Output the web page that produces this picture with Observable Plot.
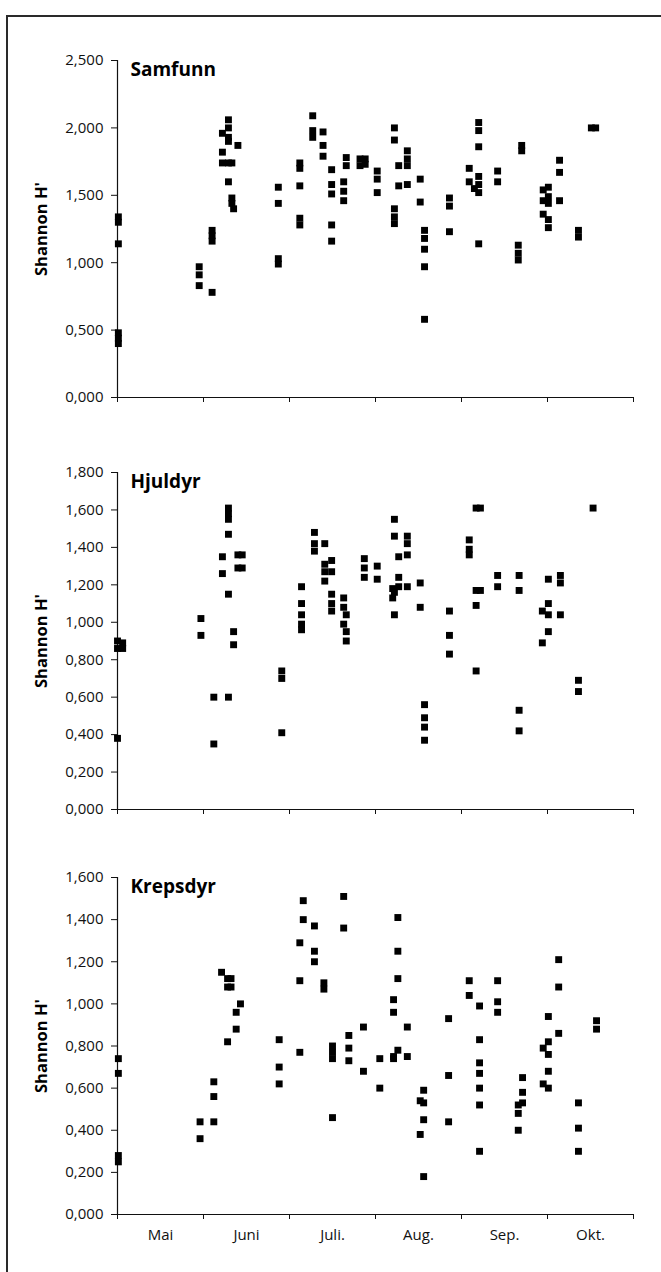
<!DOCTYPE html>
<html><head><meta charset="utf-8">
<script src="https://cdn.jsdelivr.net/npm/d3@7"></script>
<script src="https://cdn.jsdelivr.net/npm/@observablehq/plot@0.6"></script>
<style>
html,body{margin:0;padding:0;background:#fff;}
#root{position:relative;width:661px;height:1272px;overflow:hidden;font-family:"Open Sans",sans-serif;}
#frame{position:absolute;left:6px;top:15px;right:-10px;bottom:-10px;border-left:2px solid #2a2a2a;border-top:2px solid #2a2a2a;}
.panel{position:absolute;left:0;}
</style></head><body><div id="root"><div id="frame"></div></div>
<script>
// ---- data ----
const months = ["Mai", "Juni", "Juli.", "Aug.", "Sep.", "Okt."];
const monthBounds = [0, 1, 2, 3, 4, 5, 6];
const yLabel = "Shannon H'";
const panelTitles = ["Samfunn", "Hjuldyr", "Krepsdyr"];
const samfunnTicks = [0, 0.5, 1, 1.5, 2, 2.5];
const hjuldyrTicks = [0, 0.2, 0.4, 0.6, 0.8, 1.0, 1.2, 1.4, 1.6, 1.8];
const krepsdyrTicks = [0, 0.2, 0.4, 0.6, 0.8, 1.0, 1.2, 1.4, 1.6];

// sampling position (in months from 1 May) and H' values of the stations
const samfunnX = [0.01, 0.95, 1.10, 1.22, 1.29, 1.33, 1.35, 1.40, 1.87, 2.12, 2.27, 2.39, 2.49, 2.63, 2.66, 2.82, 2.88, 3.02, 3.22, 3.27, 3.37, 3.52, 3.57, 3.86, 4.09, 4.15, 4.20, 4.42, 4.70, 4.66, 4.95, 5.01, 5.14, 5.36, 5.51, 5.56];
const samfunnY = [
  [1.34, 1.30, 1.14, 0.48, 0.44, 0.40], [0.97, 0.91, 0.83], [1.24, 1.20, 1.16, 0.78],
  [1.96, 1.82, 1.74], [2.06, 2.00, 1.93, 1.90, 1.74, 1.60], [1.74, 1.48, 1.44], [1.40], [1.87],
  [1.56, 1.44, 1.03, 0.99], [1.74, 1.70, 1.57, 1.33, 1.28], [2.09, 1.98, 1.93], [1.97, 1.87, 1.79],
  [1.69, 1.58, 1.51, 1.28, 1.16], [1.60, 1.53, 1.46], [1.78, 1.72], [1.77, 1.72], [1.77, 1.73],
  [1.68, 1.62, 1.52], [2.00, 1.91, 1.40, 1.34, 1.29], [1.72, 1.57], [1.83, 1.77, 1.72, 1.58],
  [1.62, 1.45], [1.24, 1.18, 1.10, 0.97, 0.58], [1.48, 1.42, 1.23], [1.70, 1.60], [1.55],
  [2.04, 1.98, 1.86, 1.64, 1.58, 1.52, 1.14], [1.68, 1.60], [1.87, 1.83], [1.13, 1.07, 1.02],
  [1.54, 1.46, 1.36], [1.56, 1.49, 1.44, 1.32, 1.26], [1.76, 1.67, 1.46], [1.24, 1.19], [2.00], [2.00]
];
const hjuldyrX = [0.00, 0.06, 0.97, 1.12, 1.22, 1.29, 1.35, 1.40, 1.45, 1.91, 2.14, 2.29, 2.41, 2.49, 2.63, 2.66, 2.87, 3.02, 3.20, 3.22, 3.27, 3.37, 3.52, 3.57, 3.86, 4.09, 4.17, 4.22, 4.42, 4.67, 4.94, 5.01, 5.15, 5.36, 5.53];
const hjuldyrY = [
  [0.90, 0.86, 0.38], [0.89, 0.86], [1.02, 0.93], [0.60, 0.35], [1.35, 1.26],
  [1.61, 1.58, 1.55, 1.47, 1.15, 0.60], [0.95, 0.88], [1.36, 1.29], [1.36, 1.29],
  [0.74, 0.70, 0.41], [1.19, 1.10, 1.04, 0.99, 0.96], [1.48, 1.42, 1.38], [1.42, 1.31, 1.27, 1.22],
  [1.33, 1.27, 1.15, 1.10, 1.06], [1.13, 1.08, 0.99], [1.04, 0.95, 0.90], [1.34, 1.29, 1.24],
  [1.30, 1.23], [1.18, 1.13], [1.55, 1.46, 1.16, 1.04], [1.35, 1.24, 1.19], [1.46, 1.42, 1.36, 1.19],
  [1.21, 1.08], [0.56, 0.49, 0.44, 0.37], [1.06, 0.93, 0.83], [1.44, 1.39, 1.36],
  [1.61, 1.17, 1.09, 0.74], [1.61, 1.17], [1.25, 1.19], [1.25, 1.17, 0.53, 0.42], [1.06, 0.89],
  [1.23, 1.10, 1.04, 0.95], [1.25, 1.21, 1.04], [0.69, 0.63], [1.61]
];
const krepsdyrX = [0.01, 0.96, 1.12, 1.21, 1.28, 1.32, 1.38, 1.43, 1.88, 2.12, 2.16, 2.29, 2.40, 2.50, 2.63, 2.69, 2.86, 3.05, 3.21, 3.26, 3.37, 3.52, 3.56, 3.85, 4.09, 4.21, 4.42, 4.66, 4.71, 4.95, 5.01, 5.13, 5.36, 5.57];
const krepsdyrY = [
  [0.74, 0.67, 0.28, 0.25], [0.44, 0.36], [0.63, 0.56, 0.44], [1.15], [1.12, 1.08, 0.82], [1.12, 1.08],
  [0.96, 0.88], [1.00], [0.83, 0.70, 0.62], [1.29, 1.11, 0.77], [1.49, 1.40], [1.37, 1.25, 1.20],
  [1.10, 1.07], [0.80, 0.77, 0.74, 0.46], [1.51, 1.36], [0.85, 0.79, 0.73], [0.89, 0.68], [0.74, 0.60],
  [1.02, 0.96, 0.75, 0.74], [1.41, 1.25, 1.12, 0.78], [0.89, 0.75], [0.54, 0.38], [0.59, 0.53, 0.45, 0.18],
  [0.93, 0.66, 0.44], [1.11, 1.04], [0.99, 0.83, 0.72, 0.67, 0.60, 0.52, 0.30], [1.11, 1.01, 0.96],
  [0.52, 0.48, 0.40], [0.65, 0.58, 0.53], [0.79, 0.62], [0.94, 0.82, 0.76, 0.68, 0.60],
  [1.21, 1.08, 0.86], [0.53, 0.41, 0.30], [0.92, 0.88]
];

// ---- drawing ----
const fmt = v => d3.format(".3f")(v).replace(".", ",");
const flatten = (xs, ys) => xs.flatMap((x, i) => ys[i].map(y => ({x, y})));
const panels = [
  {title: panelTitles[0], data: flatten(samfunnX, samfunnY), ticks: samfunnTicks, top: 60},
  {title: panelTitles[1], data: flatten(hjuldyrX, hjuldyrY), ticks: hjuldyrTicks, top: 472},
  {title: panelTitles[2], data: flatten(krepsdyrX, krepsdyrY), ticks: krepsdyrTicks, top: 877}
];
const plotH = 337, mTop = 20, mBottom = 45;
const root = document.getElementById("root");
panels.forEach((p, i) => {
  const last = i === panels.length - 1;
  const marks = [
    Plot.axisY({ticks: p.ticks, tickFormat: fmt, tickSize: 6, tickPadding: 8, fontSize: 15, label: null, stroke: "#111", fill: "#111"}),
    Plot.axisX({ticks: monthBounds, tickSize: 5, tickFormat: () => "", label: null, stroke: "#111"}),
    Plot.ruleX([0], {stroke: "#111", strokeWidth: 1.2}),
    Plot.ruleY([0], {stroke: "#111", strokeWidth: 1.2}),
    Plot.text([p.title], {frameAnchor: "top-left", dx: 13, dy: 2, textAnchor: "start", lineAnchor: "top", fontSize: 19, fontWeight: "bold", fill: "#000"}),
    Plot.text([yLabel], {frameAnchor: "left", dx: -76, rotate: -90, textAnchor: "middle", fontSize: 16.5, fontWeight: "bold", fill: "#000"}),
    Plot.dot(p.data, {x: "x", y: "y", symbol: "square", r: 3.9, fill: "#000", stroke: "none"})
  ];
  if (last) {
    marks.push(Plot.axisX({ticks: months.map((m, k) => k + 0.5), tickSize: 0, tickPadding: 15, tickFormat: v => months[Math.floor(v)], fontSize: 15, label: null, fill: "#111"}));
  }
  const svg = Plot.plot({
    width: 661, height: mTop + plotH + mBottom,
    marginLeft: 117, marginRight: 28, marginTop: mTop, marginBottom: mBottom,
    style: {fontFamily: "'Open Sans', sans-serif", background: "transparent", overflow: "visible"},
    x: {domain: [0, 6]},
    y: {domain: [0, p.ticks[p.ticks.length - 1]]},
    marks
  });
  svg.classList.add("panel");
  svg.style.position = "absolute";
  svg.style.top = (p.top - mTop) + "px";
  svg.style.left = "0px";
  root.appendChild(svg);
});
</script></body></html>
